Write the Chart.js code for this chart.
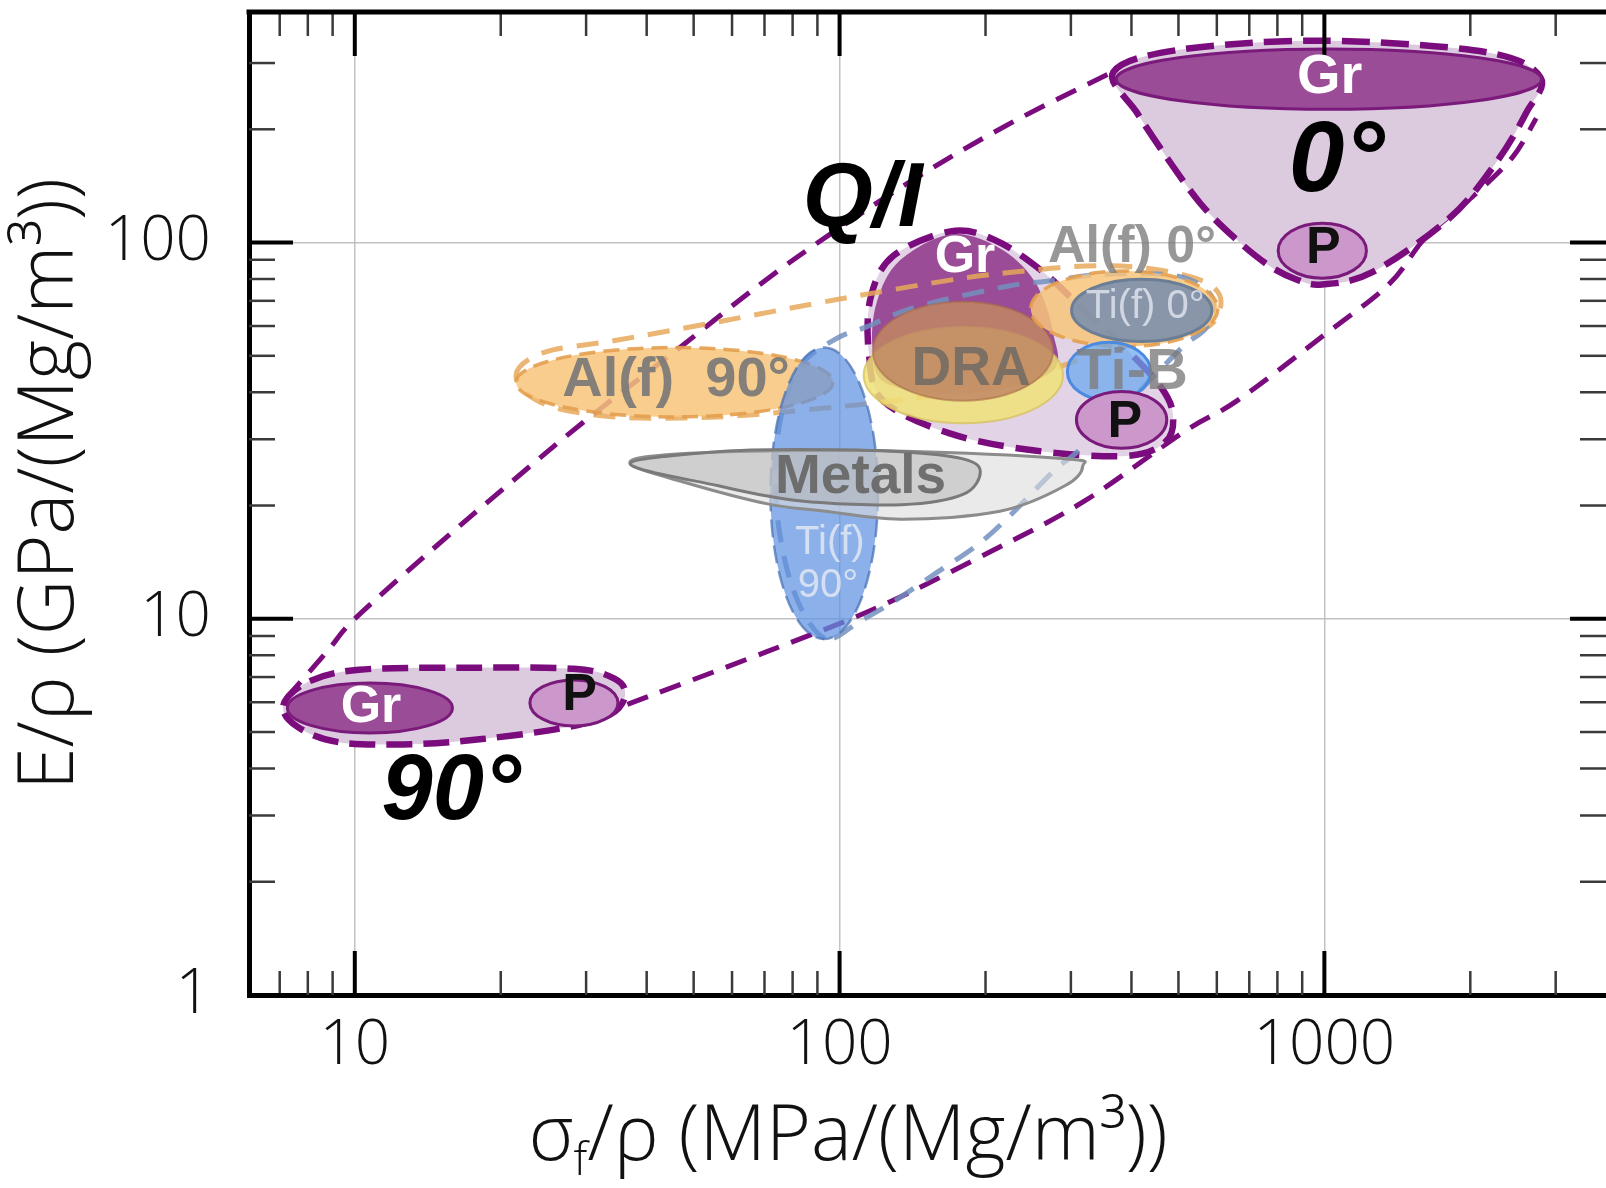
<!DOCTYPE html>
<html>
<head>
<meta charset="utf-8">
<script src="https://cdn.jsdelivr.net/npm/chart.js@4.4.0/dist/chart.umd.min.js"></script>
<style>
  html, body { margin: 0; padding: 0; background: #fff; }
</style>
</head>
<body>
<canvas id="chart" width="1606" height="1188"></canvas>
<script>
// axis ranges and ticks
const xRange = [6.05, 3810];
const yRange = [1, 410];
const xMajorTicks = [10, 100, 1000];
const yMajorTicks = [1, 10, 100];
const xMinorTicks = [7, 8, 9, 20, 30, 40, 50, 60, 70, 80, 90, 200, 300, 400, 500, 600, 700, 800, 900, 2000, 3000];
const yMinorTicks = [2, 3, 4, 5, 6, 7, 8, 9, 20, 30, 40, 50, 60, 70, 80, 90, 200, 300];

// outlines, [sigma/rho, E/rho] pairs
const qiUpper = [[7.22, 6.15], [8.77, 8.19], [10, 10], [14.3, 15.1], [19.95, 21.8], [29.6, 33.3], [46.2, 51.9], [68.5, 77.4], [95.5, 105.1], [148, 152], [229, 210], [372, 287]];
const qiLower = [[36.5, 5.92], [71.0, 8.19], [119.4, 10.7], [205, 15.1], [319, 20.5], [511, 31.3], [661, 38.0], [985, 56.0], [1358, 77.4], [1618, 103.2], [2042, 134], [2447, 169], [2735, 214]];
const zeroEnvelope = [[367, 284], [499, 325], [985, 344], [2146, 321], [2790, 275], [2607, 221], [2253, 162], [1810, 116], [1256, 83.4], [990, 77.4], [873, 79.9], [765, 87.2], [652, 103], [555, 127], [475, 167], [411, 221]];
const ninetyEnvelope = [[7.12, 5.88], [8.0, 6.79], [10.2, 7.32], [16.6, 7.41], [28.3, 7.36], [34.4, 6.92], [36.1, 6.26], [33.6, 5.56], [27.0, 5.13], [18.3, 4.79], [13.0, 4.64], [9.25, 4.70], [7.62, 5.16]];
const innerEnvelope = [[169.4, 107.1], [207.9, 101.9], [260, 84.5], [322, 65.4], [391, 51.9], [459, 41.5], [487, 35.0], [471, 29.6], [391, 27.1], [252.5, 28.0], [168.7, 31.1], [122.9, 38.0], [114.9, 51.0], [116, 71.8], [129.1, 92.2]];
const grDome = [[117, 52.6], [119.4, 69.6], [132.9, 89.4], [169.4, 105.1], [213, 96.9], [252.5, 78.9], [275.6, 57.7], [271.6, 45.0], [179.7, 39.7], [124.8, 42.3]];
const alEnvelope = [[21.5, 44.2], [24.5, 51.0], [34.4, 54.9], [55.9, 61.5], [90.9, 69.2], [129.1, 75.0], [179.7, 80.4], [240.5, 84.0], [322, 86.6], [431, 85.5], [563, 78.9], [612, 69.6], [563, 58.8], [391, 53.2], [262.6, 45.3], [207.9, 41.5], [133.6, 38.2], [90.9, 36.2], [55.9, 34.4], [34.4, 34.4], [24.5, 37.3]];
const tiEnvelope = [[93.2, 8.88], [80.5, 11.8], [74.2, 19.4], [74.9, 31.9], [82.5, 46.4], [97.8, 55.3], [113.2, 59.6], [144.3, 67.5], [221.4, 76.5], [267.8, 78.9], [354.9, 82.4], [499, 81.4], [586, 71.8], [571.6, 59.6], [511, 52.9], [410.7, 39.7], [361.9, 34.0], [308.3, 27.7], [275.6, 24.6], [224.7, 18.8], [192.3, 15.7], [159.1, 13.3], [129.1, 11.1], [110.5, 9.88]];
const metalsOuter = [[37.0, 25.8], [43.9, 27.3], [82.9, 28.0], [148, 27.8], [295.1, 26.6], [317.5, 25.5], [292.2, 22.6], [214.1, 19.3], [133.6, 18.4], [90.9, 19.4], [71.0, 20.2], [47.6, 23.1]];
const metalsInner = [[37.0, 25.8], [55.9, 27.8], [82.9, 28.2], [134.3, 27.8], [179.7, 26.6], [195.1, 24.6], [179.7, 21.4], [134.3, 20.1], [82.5, 20.6], [55.9, 22.6]];

// bubbles: [x low, x high, y low, y high]
const grZero = [372, 2805, 226, 327];
const pZero = [803, 1221, 80.4, 112.6];
const grNinety = [7.26, 15.9, 4.97, 6.75];
const pNinety = [22.97, 34.9, 5.19, 6.88];
const alNinety = [21.5, 96.9, 34.4, 52.6];
const tiNinety = [72.0, 120.0, 8.83, 52.6];
const draYellow = [112.1, 289, 33.1, 59.6];
const draBrown = [117.1, 275.6, 38.0, 69.6];
const alZero = [248, 603, 52.9, 84.0];
const tiZero = [301, 586, 54.6, 79.9];
const tiB = [295, 438, 38.0, 54.3];
const pQI = [308, 473, 28.4, 40.2];

// labels
const labelText = ['Gr', '0°', 'P', 'Q/I', 'Gr', 'Al(f) 0°', 'Ti(f) 0°', 'DRA', 'Ti-B', 'P', 'Al(f)  90°', 'Metals', 'Ti(f)', '90°', 'Gr', 'P', '90°'];
const labelX = [1025, 1060, 995, 111.6, 181.4, 401, 427, 186.8, 401, 387.4, 46.0, 110.5, 95.5, 94.6, 10.8, 29.1, 15.8];
const labelY = [275, 162, 96.3, 128.8, 91.1, 96.9, 67.5, 45.8, 45.0, 33.3, 43.1, 23.7, 15.9, 12.2, 5.81, 6.26, 3.42];

const PURPLE = '#7b0c7e';
const LILAC = '#dccbdf';
const GR = '#9b4c96';
const PFILL = '#cc98cb';
const SANS = '"Liberation Sans", Arial, sans-serif';
const LIGHT = '"Open Sans", "DejaVu Sans", sans-serif';

const labelStyle = [
  ['bold 56px ' + SANS, '#ffffff'],
  ['italic bold 100px ' + SANS, '#000000'],
  ['bold 52px ' + SANS, '#111111'],
  ['italic bold 90px ' + SANS, '#000000'],
  ['bold 52px ' + SANS, '#ffffff'],
  ['bold 52px ' + SANS, 'rgba(125,125,125,0.8)'],
  ['40px ' + SANS, 'rgba(225,230,240,0.8)'],
  ['bold 55px ' + SANS, 'rgba(110,105,100,0.85)'],
  ['bold 58px ' + SANS, 'rgba(125,125,125,0.8)'],
  ['bold 52px ' + SANS, '#111111'],
  ['bold 56px ' + SANS, 'rgba(120,120,120,0.9)'],
  ['bold 55px ' + SANS, 'rgba(105,105,105,0.95)'],
  ['40px ' + SANS, 'rgba(230,235,245,0.8)'],
  ['40px ' + SANS, 'rgba(230,235,245,0.8)'],
  ['bold 52px ' + SANS, '#ffffff'],
  ['bold 52px ' + SANS, '#111111'],
  ['italic bold 92px ' + SANS, '#000000']
];

// drawing layers, back to front
const layers = [
  { path: qiUpper, open: true, stroke: PURPLE, width: 5, dash: [22, 13] },
  { path: qiLower, open: true, stroke: PURPLE, width: 5, dash: [22, 13] },
  { path: zeroEnvelope, fill: LILAC, stroke: PURPLE, width: 6.5, dash: [28, 11] },
  { ellipse: grZero, fill: GR, stroke: '#7a1a7b', width: 3 },
  { ellipse: pZero, fill: PFILL, stroke: '#7a1a7b', width: 3 },
  { path: ninetyEnvelope, fill: LILAC, stroke: PURPLE, width: 6.5, dash: [26, 11] },
  { ellipse: grNinety, fill: GR, stroke: '#7a1a7b', width: 3 },
  { ellipse: pNinety, fill: PFILL, stroke: '#7a1a7b', width: 3 },
  { path: innerEnvelope, fill: '#e2d3e6' },
  { path: grDome, fill: GR },
  { path: innerEnvelope, stroke: PURPLE, width: 6.5, dash: [26, 12] },
  { path: alEnvelope, stroke: 'rgba(232,168,90,0.85)', width: 5, dash: [22, 14] },
  { path: tiEnvelope, stroke: 'rgba(115,145,190,0.85)', width: 5, dash: [22, 14] },
  { ellipse: alNinety, fill: 'rgba(247,196,122,0.85)', stroke: 'rgba(228,160,80,0.9)', width: 3.5, dash: [16, 8] },
  { ellipse: tiNinety, fill: 'rgba(95,145,225,0.72)', stroke: 'rgba(70,110,180,0.7)', width: 2.5, dash: [18, 8] },
  { path: metalsOuter, fill: 'rgba(220,220,220,0.6)', stroke: '#8c8c8c', width: 3 },
  { path: metalsInner, fill: 'rgba(175,175,175,0.45)', stroke: '#7a7a7a', width: 3 },
  { ellipse: draYellow, fill: 'rgba(240,226,120,0.85)', stroke: 'rgba(215,195,95,0.8)', width: 2 },
  { ellipse: draBrown, fill: 'rgba(192,135,100,0.85)', stroke: 'rgba(170,110,70,0.6)', width: 2 },
  { ellipse: alZero, fill: 'rgba(247,196,122,0.85)', stroke: 'rgba(228,160,80,0.9)', width: 3.5, dash: [16, 8] },
  { ellipse: tiZero, fill: 'rgba(122,142,172,0.88)', stroke: '#6c7e96', width: 3 },
  { ellipse: tiB, fill: 'rgba(105,168,240,0.72)', stroke: '#4a8ae0', width: 3 },
  { ellipse: pQI, fill: PFILL, stroke: '#7a1a7b', width: 3 }
];

function traceSmooth(ctx, pts, closed) {
  const n = pts.length;
  const get = i => closed ? pts[(i + n) % n] : pts[Math.max(0, Math.min(n - 1, i))];
  ctx.beginPath();
  ctx.moveTo(pts[0][0], pts[0][1]);
  const last = closed ? n : n - 1;
  for (let i = 0; i < last; i++) {
    const p0 = get(i - 1), p1 = get(i), p2 = get(i + 1), p3 = get(i + 2);
    ctx.bezierCurveTo(
      p1[0] + (p2[0] - p0[0]) / 6, p1[1] + (p2[1] - p0[1]) / 6,
      p2[0] - (p3[0] - p1[0]) / 6, p2[1] - (p3[1] - p1[1]) / 6,
      p2[0], p2[1]);
  }
  if (closed) ctx.closePath();
}

function traceEllipse(ctx, r, x, y) {
  const l = x.getPixelForValue(r[0]), rt = x.getPixelForValue(r[1]);
  const t = y.getPixelForValue(r[3]), b = y.getPixelForValue(r[2]);
  ctx.beginPath();
  ctx.ellipse((l + rt) / 2, (t + b) / 2, (rt - l) / 2, (b - t) / 2, 0, 0, Math.PI * 2);
}

function tickLine(ctx, x1, y1, x2, y2) {
  ctx.beginPath();
  ctx.moveTo(x1, y1);
  ctx.lineTo(x2, y2);
  ctx.stroke();
}

const bubblePlugin = {
  id: 'bubbles',
  afterDatasetsDraw(chart) {
    const { ctx, chartArea: a } = chart;
    const x = chart.scales.x, y = chart.scales.y;

    // material regions
    ctx.save();
    ctx.beginPath();
    ctx.rect(a.left, a.top, a.right - a.left, a.bottom - a.top);
    ctx.clip();
    ctx.lineJoin = 'round';
    layers.forEach(l => {
      if (l.ellipse) {
        traceEllipse(ctx, l.ellipse, x, y);
      } else {
        const px = l.path.map(p => [x.getPixelForValue(p[0]), y.getPixelForValue(p[1])]);
        traceSmooth(ctx, px, !l.open);
      }
      if (l.fill) {
        ctx.fillStyle = l.fill;
        ctx.fill();
      }
      if (l.stroke) {
        ctx.setLineDash(l.dash || []);
        ctx.strokeStyle = l.stroke;
        ctx.lineWidth = l.width;
        ctx.stroke();
      }
    });
    ctx.restore();

    // inward ticks on all four sides
    ctx.save();
    ctx.setLineDash([]);
    ctx.strokeStyle = '#3a3a3a';
    ctx.lineWidth = 2.5;
    xMinorTicks.forEach(v => {
      const p = x.getPixelForValue(v);
      tickLine(ctx, p, a.bottom, p, a.bottom - 24);
      tickLine(ctx, p, a.top, p, a.top + 24);
    });
    yMinorTicks.forEach(v => {
      const p = y.getPixelForValue(v);
      tickLine(ctx, a.left, p, a.left + 26, p);
      tickLine(ctx, a.right, p, a.right - 26, p);
    });
    ctx.strokeStyle = '#000';
    ctx.lineWidth = 4;
    xMajorTicks.forEach(v => {
      const p = x.getPixelForValue(v);
      tickLine(ctx, p, a.bottom, p, a.bottom - 44);
      tickLine(ctx, p, a.top, p, a.top + 44);
    });
    yMajorTicks.forEach(v => {
      const p = y.getPixelForValue(v);
      tickLine(ctx, a.left, p, a.left + 44, p);
      tickLine(ctx, a.right, p, a.right - 36, p);
    });
    // top frame line
    ctx.lineWidth = 5;
    tickLine(ctx, a.left - 2.5, a.top, a.right, a.top);
    ctx.restore();

    // region labels
    ctx.save();
    ctx.textAlign = 'center';
    ctx.textBaseline = 'middle';
    labelText.forEach((t, i) => {
      ctx.font = labelStyle[i][0];
      ctx.fillStyle = labelStyle[i][1];
      ctx.fillText(t, x.getPixelForValue(labelX[i]), y.getPixelForValue(labelY[i]));
    });
    ctx.restore();

    // axis titles
    ctx.save();
    ctx.fillStyle = '#111';
    ctx.textBaseline = 'alphabetic';
    const big = '300 77px ' + LIGHT, small = '300 46px ' + LIGHT;
    const parts = [['σ', big, 0], ['f', small, 15], ['/ρ (MPa/(Mg/m³))', big, 0]];
    let total = 0;
    parts.forEach(p => { ctx.font = p[1]; total += ctx.measureText(p[0]).width; });
    let cx = 848 - total / 2;
    const base = 1160;
    parts.forEach(p => {
      ctx.font = p[1];
      ctx.textAlign = 'left';
      ctx.fillText(p[0], cx, base + p[2]);
      cx += ctx.measureText(p[0]).width;
    });
    ctx.translate(51, 484);
    ctx.rotate(-Math.PI / 2);
    ctx.textAlign = 'center';
    ctx.textBaseline = 'middle';
    ctx.font = big;
    ctx.fillText('E/ρ (GPa/(Mg/m³))', 0, 0);
    ctx.restore();
  }
};

new Chart(document.getElementById('chart'), {
  type: 'scatter',
  data: { datasets: [] },
  options: {
    responsive: false,
    animation: false,
    layout: { padding: { top: 12, right: 0, bottom: 0, left: 0 } },
    plugins: { legend: { display: false }, tooltip: { enabled: false } },
    scales: {
      x: {
        type: 'logarithmic',
        min: xRange[0],
        max: xRange[1],
        afterBuildTicks: s => { s.ticks = xMajorTicks.map(v => ({ value: v })); },
        afterFit: s => { s.height = 193; s.paddingLeft = 0; s.paddingRight = 0; },
        grid: { color: '#c2c2c2', lineWidth: 1.5, drawTicks: false },
        border: { color: '#000', width: 5 },
        ticks: {
          callback: v => String(v),
          autoSkip: false,
          maxRotation: 0,
          padding: 14,
          color: '#111',
          font: { family: LIGHT, size: 62, weight: '300' }
        }
      },
      y: {
        type: 'logarithmic',
        min: yRange[0],
        max: yRange[1],
        afterBuildTicks: s => { s.ticks = yMajorTicks.map(v => ({ value: v })); },
        afterFit: s => { s.width = 249; s.paddingTop = 0; s.paddingBottom = 0; },
        grid: { color: '#c2c2c2', lineWidth: 1.5, drawTicks: false },
        border: { color: '#000', width: 5 },
        ticks: {
          callback: v => String(v),
          autoSkip: false,
          padding: 38,
          color: '#111',
          font: { family: LIGHT, size: 62, weight: '300' }
        }
      }
    }
  },
  plugins: [bubblePlugin]
});
</script>
</body>
</html>
